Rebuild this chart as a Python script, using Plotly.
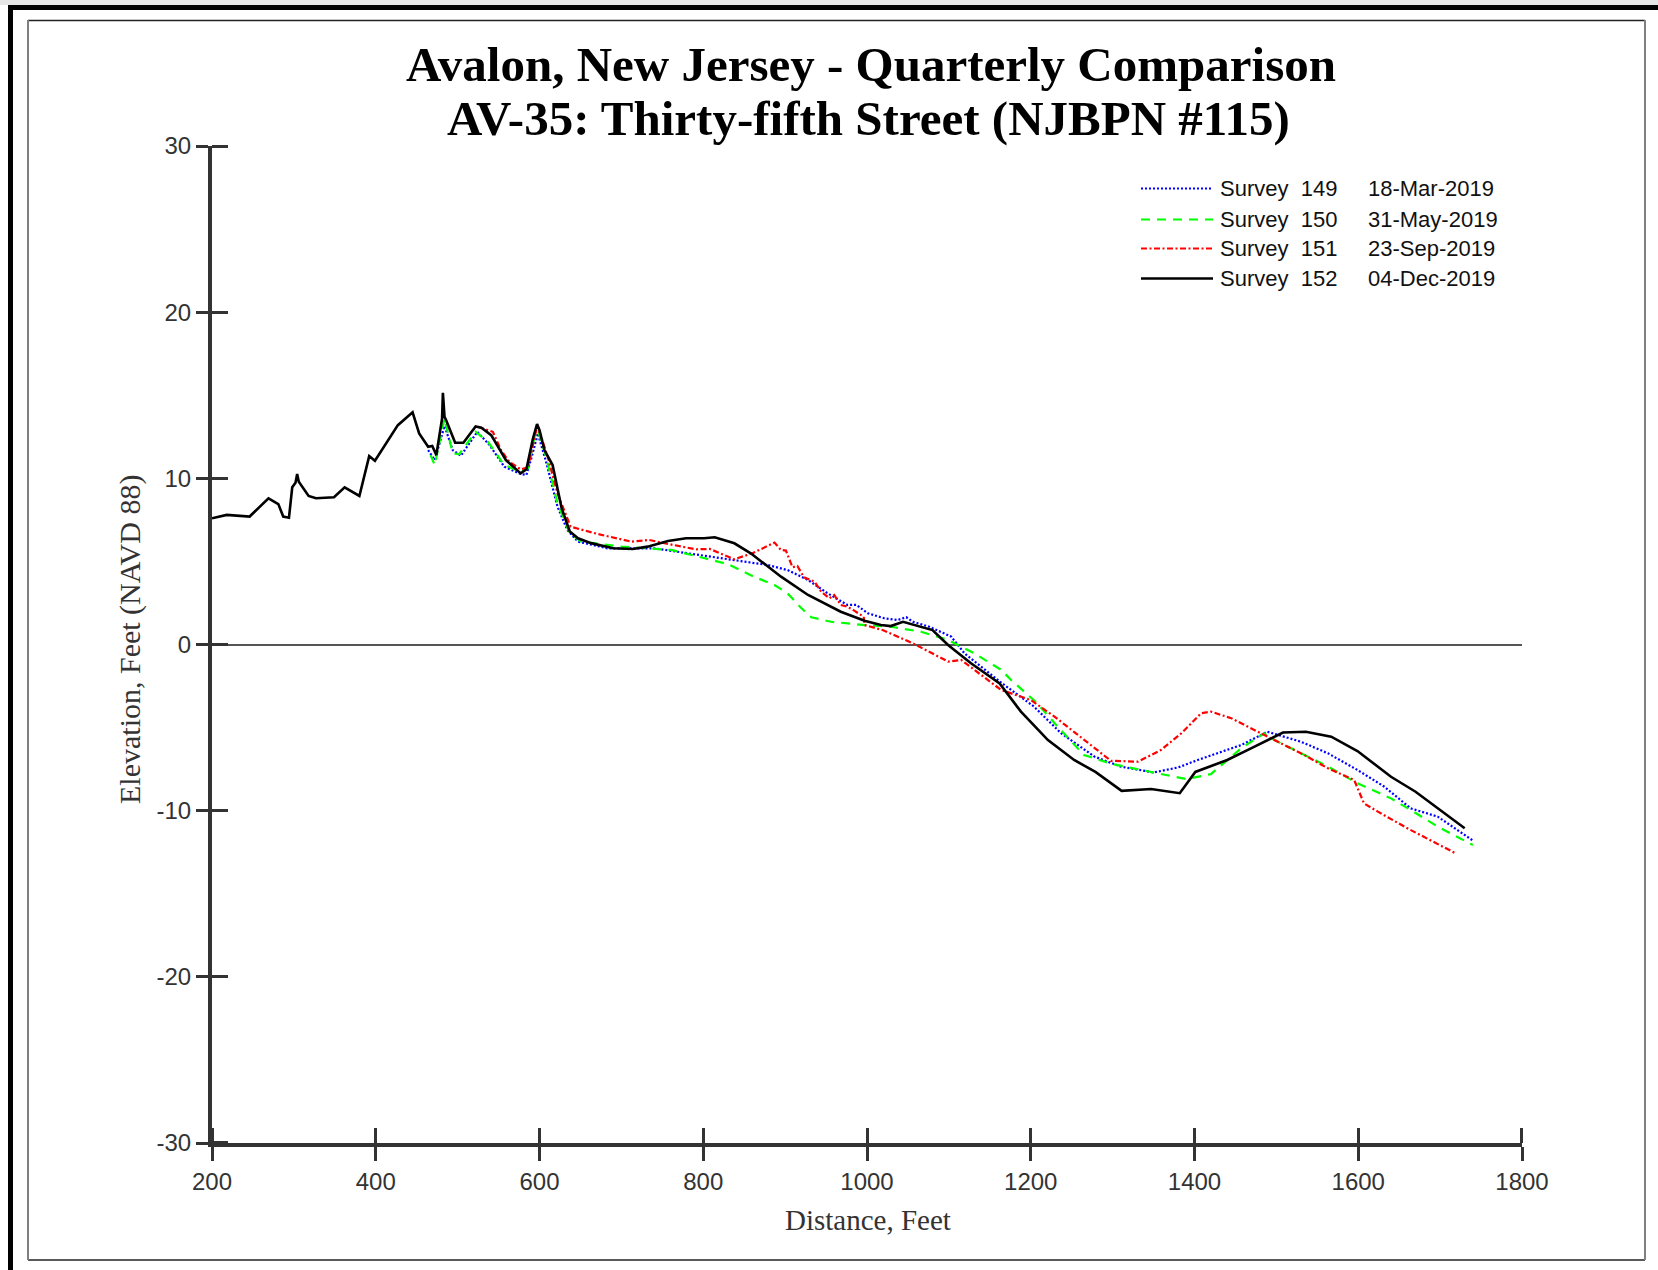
import plotly.graph_objects as go

# ---- Beach profile surveys: distance (ft) vs elevation (ft, NAVD 88) ----

# Survey 149 - 18-Mar-2019
dist_149 = [464, 472, 484, 494, 504, 524, 539, 557, 577, 584,
            590, 598, 608, 622, 634, 647, 683, 740, 781, 809,
            846, 879, 903, 928, 952, 976, 987, 1001, 1021, 1037,
            1048, 1056, 1076, 1103, 1119, 1164, 1204, 1237, 1278, 1310,
            1350, 1380, 1404, 1457, 1489, 1530, 1563, 1599, 1632, 1664,
            1697, 1740]
elev_149 = [11.7, 11.1, 13.15, 11.7, 11.36, 12.8, 12.0, 10.7, 10.26, 10.2,
            11.2, 12.7, 11.0, 8.29, 6.89, 6.19, 5.79, 5.79, 5.49, 5.29,
            4.98, 4.78, 4.48, 3.88, 3.08, 2.38, 2.38, 1.88, 1.58, 1.47,
            1.64, 1.37, 1.07, 0.47, -0.53, -2.3, -3.74, -5.34, -6.75, -7.35,
            -7.7, -7.4, -6.95, -6.05, -5.25, -5.85, -6.55, -7.55, -8.56, -9.86,
            -10.36, -11.8]

# Survey 150 - 31-May-2019
dist_150 = [467, 472, 484, 494, 502, 522, 537, 557, 577, 586,
            594, 598, 608, 622, 637, 651, 700, 748, 761, 797,
            830, 862, 887, 903, 920, 932, 956, 997, 1029, 1066,
            1099, 1131, 1164, 1176, 1206, 1233, 1265, 1300, 1350, 1390,
            1420, 1457, 1485, 1494, 1510, 1534, 1563, 1599, 1640, 1664,
            1697, 1740]
elev_150 = [11.4, 10.8, 13.6, 11.5, 11.46, 12.8, 12.2, 10.8, 10.4, 10.6,
            12.5, 12.9, 11.3, 8.5, 6.69, 6.19, 5.89, 5.75, 5.69, 5.25,
            4.84, 4.08, 3.58, 3.08, 2.18, 1.64, 1.37, 1.17, 1.07, 0.77,
            0.27, -0.53, -1.53, -2.14, -3.44, -4.95, -6.65, -7.2, -7.7, -8.1,
            -7.8, -6.25, -5.35, -5.65, -6.05, -6.65, -7.35, -8.35, -9.26, -9.96,
            -10.96, -12.07]

# Survey 151 - 23-Sep-2019
dist_151 = [525, 543, 553, 563, 577, 586, 596, 598, 610, 622,
            638, 671, 712, 734, 757, 791, 808, 838, 860, 887,
            895, 901, 909, 915, 923, 936, 944, 954, 960, 968,
            976, 983, 996, 997, 1019, 1056, 1099, 1115, 1164, 1200,
            1229, 1265, 1298, 1331, 1359, 1384, 1408, 1420, 1445, 1481,
            1502, 1534, 1563, 1595, 1607, 1624, 1660, 1719]
elev_151 = [13.1, 12.8, 11.7, 11.0, 10.54, 10.66, 12.9, 13.1, 11.3, 9.1,
            7.09, 6.65, 6.19, 6.29, 6.05, 5.73, 5.75, 5.13, 5.49, 6.13,
            5.69, 5.65, 4.65, 4.72, 4.04, 3.78, 3.18, 2.78, 2.98, 2.38,
            2.27, 2.08, 1.67, 1.17, 0.87, 0.07, -1.03, -0.93, -2.74, -3.34,
            -4.34, -5.75, -7.0, -7.05, -6.35, -5.34, -4.14, -4.04, -4.44, -5.34,
            -5.85, -6.65, -7.45, -8.15, -9.56, -10.06, -11.06, -12.57]

# Survey 152 - 04-Dec-2019
dist_152 = [200, 218, 246, 269, 281, 287, 294, 298, 302, 304,
            306, 318, 327, 349, 362, 380, 392, 399, 427, 445,
            453, 464, 469, 474, 481, 482, 484, 486, 497, 507,
            522, 529, 541, 559, 577, 584, 592, 597, 600, 606,
            616, 627, 637, 647, 663, 690, 714, 732, 757, 779,
            801, 814, 838, 858, 895, 928, 968, 997, 1017, 1029,
            1044, 1080, 1099, 1127, 1162, 1188, 1221, 1253, 1279, 1311,
            1347, 1382, 1401, 1440, 1469, 1508, 1536, 1567, 1599, 1640,
            1670, 1730]
elev_152 = [7.6, 7.8, 7.7, 8.8, 8.45, 7.7, 7.63, 9.46, 9.74, 10.26,
            9.8, 8.94, 8.8, 8.86, 9.46, 8.94, 11.34, 11.06, 13.2, 13.97,
            12.7, 11.9, 11.95, 11.4, 13.6, 15.15, 13.7, 13.5, 12.14, 12.14,
            13.12, 13.05, 12.6, 11.1, 10.3, 10.55, 12.4, 13.27, 12.9, 11.7,
            10.8, 8.2, 6.8, 6.39, 6.1, 5.79, 5.75, 5.89, 6.23, 6.39,
            6.39, 6.45, 6.09, 5.49, 4.08, 2.98, 1.97, 1.43, 1.17, 1.11,
            1.37, 0.87, -0.03, -1.13, -2.34, -4.04, -5.75, -6.95, -7.67, -8.81,
            -8.7, -8.95, -7.67, -6.95, -6.25, -5.3, -5.25, -5.55, -6.41, -7.96,
            -8.86, -11.06]

survey_ids = ["149", "150", "151", "152"]
survey_dates = ["18-Mar-2019", "31-May-2019", "23-Sep-2019", "04-Dec-2019"]

x_ticks = [200, 400, 600, 800, 1000, 1200, 1400, 1600, 1800]
y_ticks = [-30, -20, -10, 0, 10, 20, 30]
y_tick_labels = ["-30", "-20", "-10", "0", "10", "20", "30"]

# ---- page geometry (pixels) ----
W, H = 1658, 1270
PL, PR, PT, PB = 212, 1522, 146, 1143


def fx(px):
    return (px - PL) / (PR - PL)


def fy(py):
    return (PB - py) / (PB - PT)


def nudge(vals, eps):
    # inward tick halves sit a hair off the major ticks so both are kept
    lo, hi = min(vals), max(vals)
    return [v + eps if v < hi else v - eps for v in vals]


styles = [
    dict(color="#0000FF", dash="2px,2px", width=2.2),
    dict(color="#00FF00", dash="9px,7px", width=2.2),
    dict(color="#FF0000", dash="6px,2.5px,2px,2.5px", width=2.2),
    dict(color="#000000", dash="solid", width=2.6),
]
series = [(dist_149, elev_149), (dist_150, elev_150),
          (dist_151, elev_151), (dist_152, elev_152)]

fig = go.Figure()
for (xs, ys), sid, date, st in zip(series, survey_ids, survey_dates, styles):
    fig.add_trace(go.Scatter(
        x=xs, y=ys, mode="lines",
        name=f"Survey {sid} {date}",
        line=dict(color=st["color"], dash=st["dash"], width=st["width"]),
        showlegend=False, hoverinfo="x+y+name",
    ))

AX = "#333333"
tick_font = dict(family="Liberation Sans, Arial, sans-serif", size=24, color=AX)
serif = "Liberation Serif, Times New Roman, serif"
sans = "Liberation Sans, Arial, sans-serif"

shapes = []
annotations = []

# legend block
row_y = [188.5, 219.5, 248.5, 278.5]
for sid, date, st, ry in zip(survey_ids, survey_dates, styles, row_y):
    shapes.append(dict(type="line", xref="paper", yref="paper",
                       x0=fx(1141), x1=fx(1213), y0=fy(ry), y1=fy(ry),
                       line=dict(color=st["color"], dash=st["dash"],
                                 width=st["width"])))
    annotations.append(dict(xref="paper", yref="paper", x=fx(1218), y=fy(ry),
                            xanchor="left", yanchor="middle", showarrow=False,
                            text=f"Survey\u00a0\u00a0{sid}",
                            font=dict(family=sans, size=22, color="#111")))
    annotations.append(dict(xref="paper", yref="paper", x=fx(1366), y=fy(ry),
                            xanchor="left", yanchor="middle", showarrow=False,
                            text=date,
                            font=dict(family=sans, size=22, color="#111")))

# second title line and axis titles
annotations.append(dict(xref="paper", yref="paper", x=fx(868), y=fy(118.5),
                        xanchor="center", yanchor="middle", showarrow=False,
                        text="<b>AV-35: Thirty-fifth Street (NJBPN #115)</b>",
                        font=dict(family=serif, size=49, color="#000")))
annotations.append(dict(xref="paper", yref="paper", x=fx(868), y=fy(1220),
                        xanchor="center", yanchor="middle", showarrow=False,
                        text="Distance, Feet",
                        font=dict(family=serif, size=29, color=AX)))
annotations.append(dict(xref="paper", yref="paper", x=fx(130), y=fy(640),
                        xanchor="center", yanchor="middle", showarrow=False,
                        textangle=-90, text="Elevation, Feet (NAVD 88)",
                        font=dict(family=serif, size=30, color=AX)))

# page frame
shapes += [
    dict(type="rect", xref="paper", yref="paper", layer="below",
         x0=fx(0), x1=fx(W), y0=fy(0), y1=fy(5),
         fillcolor="#e6e6e6", line=dict(width=0)),
    dict(type="rect", xref="paper", yref="paper", layer="below",
         x0=fx(8), x1=fx(W), y0=fy(5), y1=fy(10),
         fillcolor="#000", line=dict(width=0)),
    dict(type="rect", xref="paper", yref="paper", layer="below",
         x0=fx(8), x1=fx(13), y0=fy(5), y1=fy(H),
         fillcolor="#000", line=dict(width=0)),
    dict(type="line", xref="paper", yref="paper", layer="below",
         x0=fx(28), x1=fx(1645), y0=fy(20.5), y1=fy(20.5),
         line=dict(color="#222", width=1.5)),
    dict(type="line", xref="paper", yref="paper", layer="below",
         x0=fx(28), x1=fx(1645), y0=fy(1260), y1=fy(1260),
         line=dict(color="#222", width=1.5)),
    dict(type="line", xref="paper", yref="paper", layer="below",
         x0=fx(28), x1=fx(28), y0=fy(20), y1=fy(1260),
         line=dict(color="#808080", width=2)),
    dict(type="line", xref="paper", yref="paper", layer="below",
         x0=fx(1645), x1=fx(1645), y0=fy(20), y1=fy(1260),
         line=dict(color="#808080", width=2)),
]

fig.update_layout(
    width=W, height=H, autosize=False,
    margin=dict(l=PL, r=W - PR, t=PT, b=H - PB, pad=0),
    paper_bgcolor="white", plot_bgcolor="white",
    showlegend=False,
    title=dict(text="<b>Avalon, New Jersey - Quarterly Comparison</b>",
               x=fx(871), xref="paper", xanchor="center",
               y=1 - 63.5 / H, yref="container", yanchor="middle",
               font=dict(family=serif, size=49, color="#000")),
    xaxis=dict(range=[200, 1800], tickmode="array", tickvals=x_ticks,
               ticks="outside", ticklen=14, tickwidth=3, tickcolor=AX,
               minor=dict(tickmode="array", tickvals=nudge(x_ticks, 0.05),
                          ticks="inside", ticklen=15, tickwidth=3,
                          tickcolor=AX, showgrid=False),
               showline=True, linewidth=4, linecolor=AX,
               showgrid=False, zeroline=False, tickfont=tick_font,
               fixedrange=True),
    yaxis=dict(range=[-30, 30], tickmode="array", tickvals=y_ticks,
               ticktext=y_tick_labels,
               ticks="outside", ticklen=12, tickwidth=3, tickcolor=AX,
               minor=dict(tickmode="array", tickvals=nudge(y_ticks, 0.002),
                          ticks="inside", ticklen=16, tickwidth=3,
                          tickcolor=AX, showgrid=False),
               showline=True, linewidth=4, linecolor=AX,
               showgrid=False, zeroline=True, zerolinecolor="#555",
               zerolinewidth=1.5, tickfont=tick_font, fixedrange=True),
    shapes=shapes,
    annotations=annotations,
)

fig.write_html("out.html", config={"displayModeBar": False})
